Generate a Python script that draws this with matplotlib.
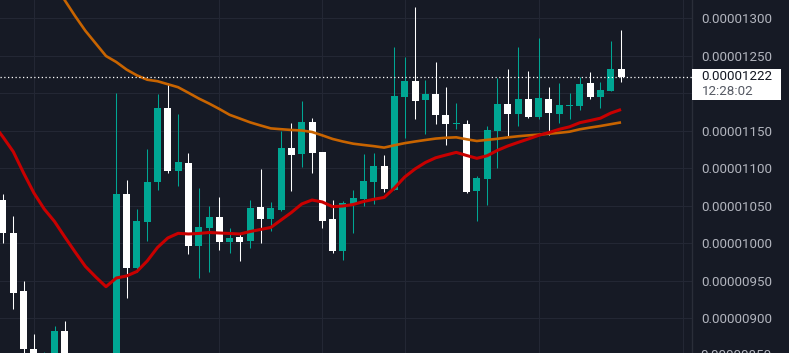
import matplotlib
matplotlib.use("Agg")
import matplotlib.pyplot as plt
from matplotlib.patches import Rectangle
from matplotlib.ticker import FixedLocator, FuncFormatter
import matplotlib.transforms as mtransforms
import numpy as np

# prices in units of 1e-8
opens = [1057.7, 1013.3, 936.4, 859.1, 835, 840, 883.1, 835, 820, 838,
         815, 832, 1065.7, 967.5, 1028.8, 1082.1, 1180.4, 1096.8, 1107.1, 996.8,
         1020.4, 1035.1, 1001.7, 1008.4, 1003.1, 1048.4, 1032.4, 1044.4, 1127.1, 1119.1,
         1161.7, 1121.7, 1032.4, 989.7, 1052.4, 1059.1, 1081.7, 1103.1, 1071.1, 1195.1,
         1216.4, 1191.1, 1199.1, 1171.1, 1159.1, 1159.1, 1069.7, 1085.7, 1149.7, 1185.7,
         1172.4, 1192.4, 1168.4, 1192.4, 1172.4, 1183.6, 1183.1, 1213.7, 1195.1, 1203.1,
         1232.4]
highs = [1065.3, 1036.4, 949.7, 879, 855, 889.7, 896.4, 848, 845, 846,
         845, 1200.4, 1084.4, 1045.7, 1125.7, 1199.1, 1213.7, 1172.4, 1120.4, 1073.7,
         1049.7, 1061.7, 1020.4, 1013.7, 1057.8, 1099.1, 1055.1, 1149.7, 1160.4, 1189.7,
         1167.1, 1121.7, 1057.8, 1056.4, 1071.1, 1119.1, 1120.4, 1117.7, 1261.7, 1248.4,
         1315.1, 1217.7, 1241.7, 1208.4, 1187.1, 1164.4, 1089.7, 1156.4, 1220.4, 1232.4,
         1261.7, 1229.7, 1273.7, 1208.4, 1213.7, 1200.4, 1221.7, 1228.4, 1215.1, 1269.7,
         1284.4]
lows = [1000.8, 912.4, 845, 825, 820, 830, 820, 805, 810, 800,
        805, 825, 927.5, 962.1, 1003.5, 1071.1, 1093.7, 1076.8, 986.1, 954.1,
        962.1, 991.5, 987.1, 976.8, 993.7, 1000.4, 1016.4, 1043.1, 1069.7, 1101.7,
        1093.7, 1020.4, 987.1, 977.7, 1013.7, 1049.7, 1052.4, 1068.4, 1071.1, 1140.4,
        1165.7, 1145.7, 1159.1, 1131.1, 1152.4, 1067.1, 1029.7, 1051.1, 1100.4, 1143.1,
        1156.4, 1167.1, 1165.7, 1144.4, 1160.4, 1165.7, 1177.7, 1192.4, 1180.4, 1203.1,
        1215.1]
closes = [1013.3, 934.1, 859.1, 840, 850, 883.1, 835, 820, 838, 815,
          832, 1065.7, 967.5, 1029.7, 1081.7, 1180.4, 1096.4, 1108.4, 996.8, 1021.7,
          1035.1, 1001.7, 1007.1, 1001.7, 1047.1, 1032.4, 1047.1, 1127.1, 1117.7, 1161.7,
          1120.4, 1029.7, 989.7, 1053.7, 1060.4, 1083.1, 1103.1, 1072.4, 1196.4, 1216.4,
          1189.7, 1199.1, 1171.1, 1159.1, 1159.6, 1068.4, 1087.1, 1151.1, 1185.7, 1172.4,
          1192.4, 1168.4, 1193.7, 1173.7, 1184.4, 1184.4, 1212.4, 1195.1, 1204.4, 1232.4,
          1222.0]

# moving averages start one bar earlier (index -1) so they reach the left edge
ma_fast = [1160.0, 1141.7, 1122.1, 1093.7, 1067.1, 1045.7, 1029.1, 1008.4, 988.4, 969.1, 955.1,
           942.1, 953.7, 956.4, 962.4, 976.4, 994.4, 1007.1, 1013.3, 1012.4, 1013.1,
           1014.4, 1013.7, 1013.1, 1012.4, 1015.7, 1018.4, 1021.1, 1031.1, 1041.1, 1052.4,
           1057.7, 1055.1, 1048.8, 1049.7, 1051.7, 1055.7, 1058.7, 1061.1, 1073.7, 1088.4,
           1099.1, 1107.7, 1114.0, 1117.7, 1121.2, 1117.1, 1113.3, 1116.7, 1123.9, 1129.7,
           1134.5, 1139.1, 1143.9, 1147.7, 1152.0, 1155.3, 1160.8, 1163.7, 1166.8, 1173.6,
           1178.4]
ma_slow = [1472, 1451, 1431, 1410, 1388, 1367, 1346, 1324, 1303, 1283.3, 1266.5,
           1249.7, 1241.7, 1231.6, 1223.9, 1218.1, 1216.1, 1212.1, 1208.1, 1200.7, 1193.1,
           1186.4, 1179.1, 1171.3, 1166.3, 1161.2, 1157.1, 1153.2, 1152.1, 1151.1, 1150.4,
           1148.4, 1143.9, 1139.1, 1135.7, 1132.8, 1131.1, 1129.5, 1127.6, 1130.7, 1133.5,
           1135.7, 1137.7, 1139.6, 1140.7, 1141.3, 1138.7, 1136.4, 1137.9, 1139.3, 1141.2,
           1142.7, 1143.9, 1144.9, 1146.1, 1147.3, 1148.8, 1152.0, 1154.3, 1156.4, 1158.8,
           1161.2]

grid_y = [850, 900, 950, 1000, 1050, 1100, 1150, 1200, 1250, 1300]
label_y = [900, 950, 1000, 1050, 1100, 1150, 1250, 1300]  # 1200 hidden by price box
x_grid = [3, 21, 31, 39, 52, 66]
last_price = 1222.0
countdown = "12:28:02"

BG = "#161a25"
UP = "#00a693"
DOWN = "#ffffff"
GRID = "#232734"
TXT = "#b2b5be"

fig = plt.figure(figsize=(7.89, 3.53), dpi=100, facecolor=BG)
ax = fig.add_axes([0, 0, 691.7 / 789, 1], facecolor=BG)

o = np.array(opens); h = np.array(highs); l = np.array(lows); c = np.array(closes)
x = np.arange(len(o))
up = c >= o
cols = np.where(up, UP, DOWN)

ax.vlines(x, l, h, colors=cols, linewidth=0.75, zorder=3)
bottoms = np.minimum(o, c)
heights = np.maximum(np.abs(c - o), 1.3)
ax.bar(x, heights, bottom=bottoms, width=0.68, color=cols, linewidth=0, zorder=4)

xm = np.arange(-1, len(o))
ax.plot(xm, ma_slow, color="#c86400", linewidth=1.9, zorder=5, solid_capstyle="butt")
ax.plot(xm, ma_fast, color="#c80000", linewidth=2.2, zorder=6, solid_capstyle="butt")

ax.axhline(last_price, color="white", linestyle=(0, (1, 2)), linewidth=0.9, zorder=7)

ax.set_xlim(-0.291, 66.86)
ax.set_ylim(853.7, 1324.4)

for v in grid_y:
    ax.axhline(v, color=GRID, linewidth=0.8, zorder=0)
for v in x_grid:
    ax.axvline(v, color=GRID, linewidth=0.8, zorder=0)

ax.yaxis.tick_right()
ax.yaxis.set_major_locator(FixedLocator(label_y))
ax.yaxis.set_major_formatter(FuncFormatter(lambda v, p: f"{v * 1e-8:.8f}"))
ax.tick_params(axis="y", length=0, pad=7, labelsize=9.6, labelcolor=TXT)
for lab in ax.get_yticklabels():
    lab.set_fontfamily("Roboto")
ax.set_xticks([])
for s in ["top", "left", "bottom"]:
    ax.spines[s].set_visible(False)
ax.spines["right"].set_color("#2a2e39")
ax.spines["right"].set_linewidth(1.0)

trans = mtransforms.blended_transform_factory(ax.transAxes, ax.transData)
# partly hidden bottom label
ax.text(1.0 + 9 / 691.7, 850, "0.00000850", transform=trans, color=TXT,
        fontsize=9.6, family="Roboto", va="center", ha="left", clip_on=False)

box = Rectangle((1.0, last_price - 30.3), 89 / 691.7, 40.7, transform=trans,
                facecolor="white", edgecolor="none", clip_on=False, zorder=10)
ax.add_patch(box)
ax.text(1.0 + 10 / 691.7, last_price, "0.00001222", transform=trans, color="#131722",
        fontsize=9.6, family="Roboto", va="center", ha="left", clip_on=False, zorder=11)
ax.text(1.0 + 10 / 691.7, 1202.1, countdown, transform=trans, color="#555963",
        fontsize=9.6, family="Roboto", va="center", ha="left", clip_on=False, zorder=11)

fig.savefig("out.png", dpi=100, facecolor=BG)
